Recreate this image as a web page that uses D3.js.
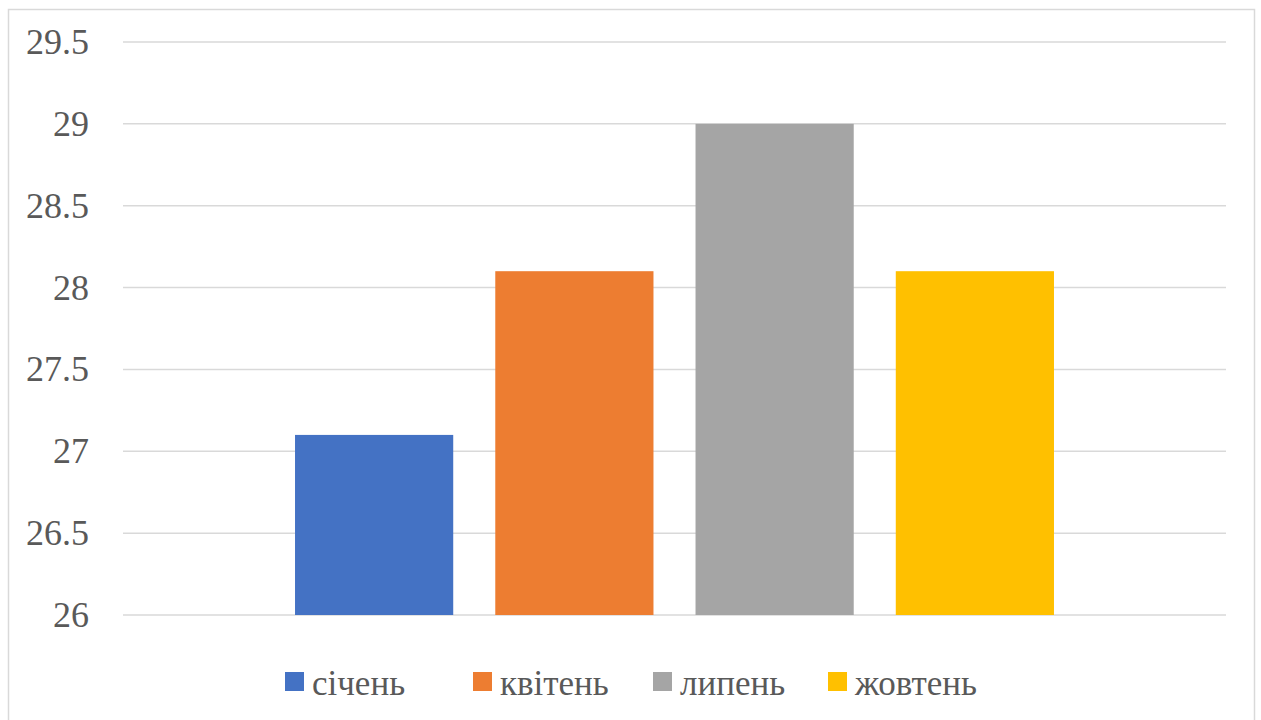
<!DOCTYPE html>
<html>
<head>
<meta charset="utf-8">
<script src="https://cdn.jsdelivr.net/npm/d3@7"></script>
<style>
  html, body { margin: 0; padding: 0; background: #fff; }
  svg { display: block; }
</style>
</head>
<body>
<div id="chart"></div>
<script>
/* Data */

const months = ['січень', 'квітень', 'липень', 'жовтень'];
const values = [27.1, 28.1, 29, 28.1];
const colors = ['#4472c4', '#ed7d31', '#a5a5a5', '#ffc000'];
const yTicks = [26, 26.5, 27, 27.5, 28, 28.5, 29, 29.5];

/* Canvas */

const width = 1261, height = 720;
const plotLeft = 123, plotRight = 1226;

const svg = d3.select('#chart').append('svg')
    .attr('width', width)
    .attr('height', height)
    .attr('font-family', 'Liberation Serif');

// outer chart border
svg.append('rect')
    .attr('x', 8.5).attr('y', 9.5)
    .attr('width', 1246).attr('height', 716)
    .attr('fill', 'none')
    .attr('stroke', '#d9d9d9')
    .attr('stroke-width', 1.5);

const y = d3.scaleLinear()
    .domain([26, 29.5])
    .range([615, 42]);

const x = d3.scaleBand()
    .domain(months)
    .range([275, 1074])
    .paddingInner(0.21)
    .paddingOuter(0.1);

/* Grid */

svg.append('g')
    .selectAll('line')
    .data(yTicks)
    .join('line')
    .attr('x1', plotLeft)
    .attr('x2', plotRight)
    .attr('y1', d => y(d))
    .attr('y2', d => y(d))
    .attr('stroke', '#d9d9d9')
    .attr('stroke-width', 1.5);

/* Bars */

svg.append('g')
    .selectAll('rect')
    .data(months)
    .join('rect')
    .attr('x', d => x(d))
    .attr('width', x.bandwidth())
    .attr('y', (d, i) => y(values[i]))
    .attr('height', (d, i) => y(26) - y(values[i]))
    .attr('fill', (d, i) => colors[i]);

/* Tick labels */

svg.append('g')
    .selectAll('text')
    .data(yTicks)
    .join('text')
    .attr('x', 89)
    .attr('y', d => y(d) + 12)
    .attr('text-anchor', 'end')
    .attr('fill', '#595959')
    .style('font', '36px "Liberation Serif"')
    .text(d => d);

/* Legend */

const legendX = [285, 473, 653, 828];

svg.append('g')
    .selectAll('rect')
    .data(months)
    .join('rect')
    .attr('x', (d, i) => legendX[i])
    .attr('y', 672)
    .attr('width', 19)
    .attr('height', 19)
    .attr('fill', (d, i) => colors[i]);

svg.append('g')
    .selectAll('text')
    .data(months)
    .join('text')
    .attr('x', (d, i) => legendX[i] + 27)
    .attr('y', 695)
    .attr('fill', '#595959')
    .style('font', '35px "Liberation Serif"')
    .text(d => d);
</script>
</body>
</html>
